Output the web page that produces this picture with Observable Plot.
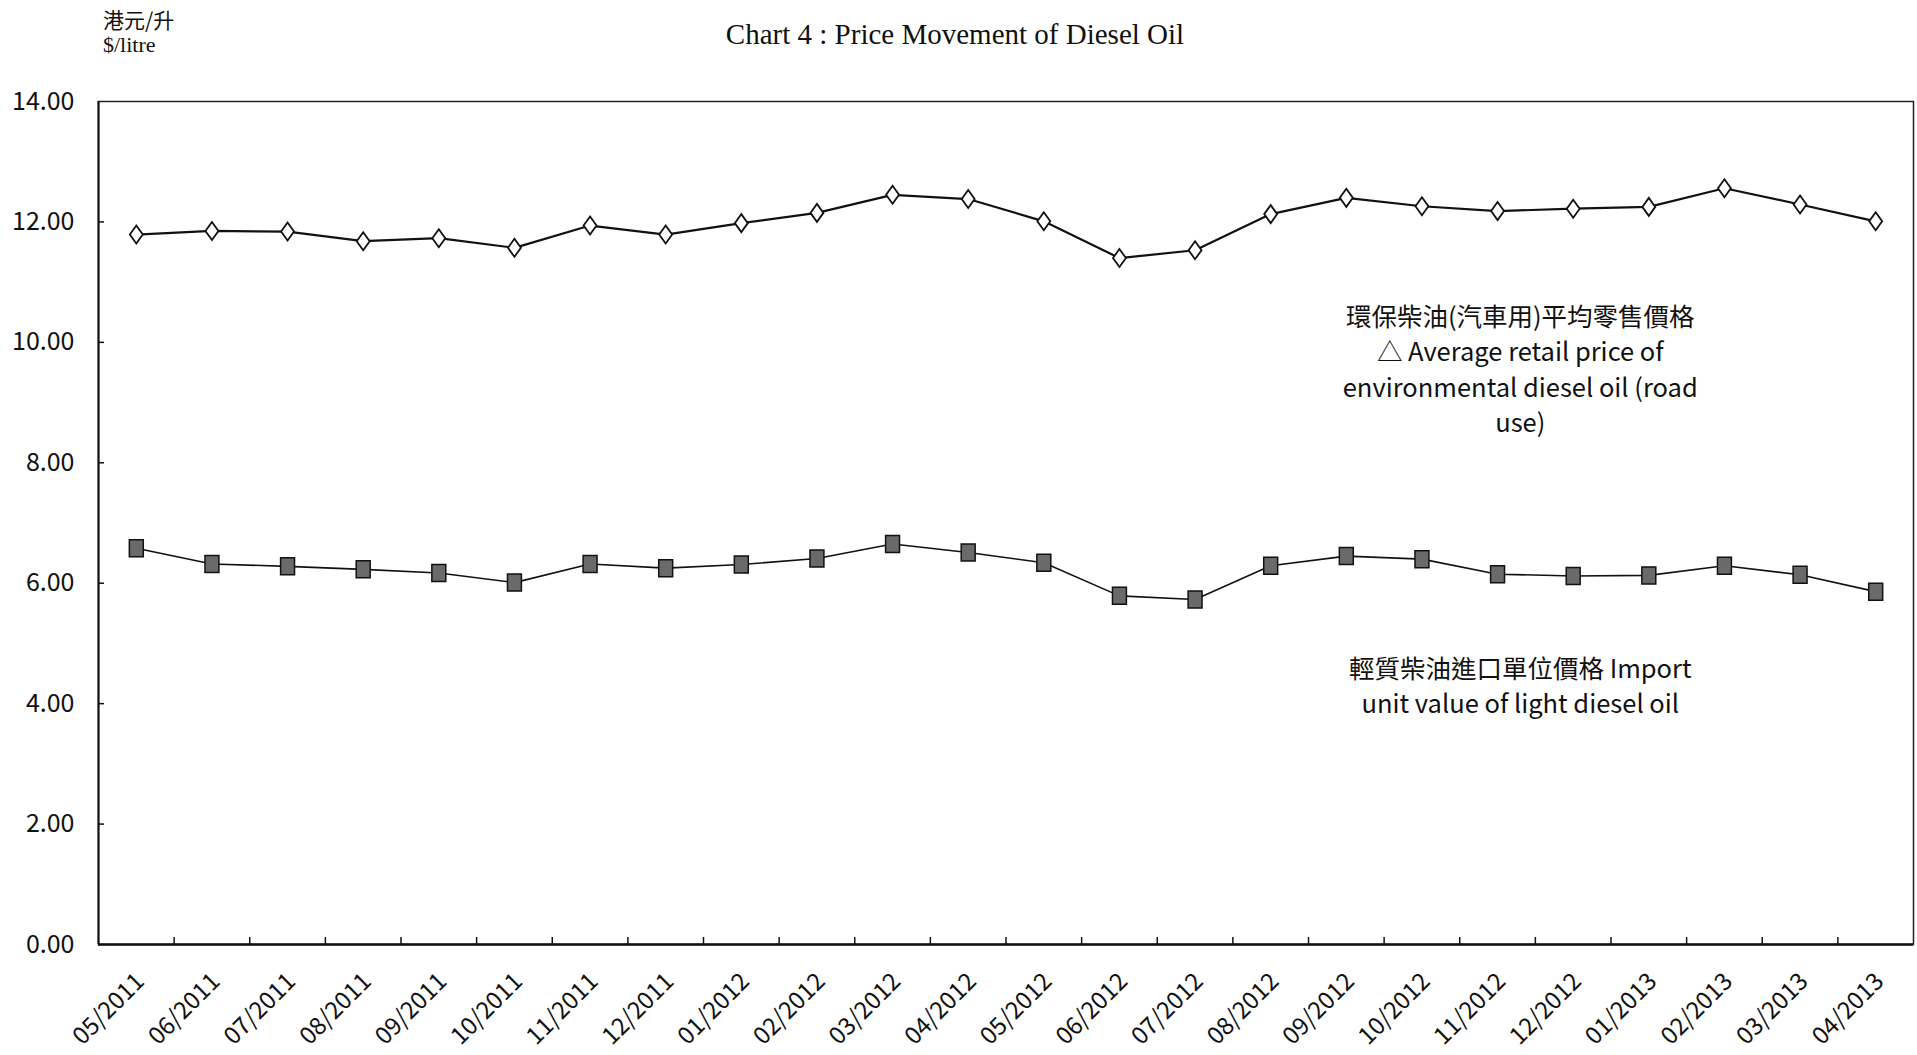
<!DOCTYPE html>
<html>
<head>
<meta charset="utf-8">
<script src="https://cdn.jsdelivr.net/npm/d3@7"></script>
<script src="https://cdn.jsdelivr.net/npm/@observablehq/plot@0.6"></script>
<style>
  html, body { margin: 0; padding: 0; background: #fff; }
  #wrap { position: relative; width: 1917px; height: 1055px; overflow: hidden; }
  #chart { position: absolute; left: 0; top: 0; }
  #title { position: absolute; left: 955px; top: 18px; transform: translateX(-50%); white-space: nowrap;
           font-family: "Liberation Serif", "Times New Roman", serif; font-size: 29px; color: #111; }
  #units { position: absolute; left: 103px; top: 6px; color: #111; line-height: 26px; }
  #units .zh { font-family: "Noto Sans CJK TC", sans-serif; font-size: 21px; }
  #units .en { font-family: "Liberation Serif", serif; font-size: 22px; }
</style>
</head>
<body>
<div id="wrap">
  <div id="chart"></div>
  <div id="title"></div>
  <div id="units"><div class="zh"></div><div class="en"></div></div>
</div>
<script>
const titleText = "Chart 4 : Price Movement of Diesel Oil";
const unitZh = "港元/升";
const unitEn = "$/litre";

const months = ["05/2011","06/2011","07/2011","08/2011","09/2011","10/2011","11/2011","12/2011",
  "01/2012","02/2012","03/2012","04/2012","05/2012","06/2012","07/2012","08/2012","09/2012","10/2012","11/2012","12/2012",
  "01/2013","02/2013","03/2013","04/2013"];
const retailPrice = [11.79,11.85,11.84,11.68,11.73,11.57,11.94,11.79,11.98,12.15,12.45,12.38,
  12.01,11.40,11.53,12.13,12.40,12.26,12.18,12.22,12.25,12.56,12.29,12.01];
const importUnitValue = [6.58,6.32,6.28,6.23,6.17,6.01,6.32,6.25,6.31,6.41,6.65,6.51,
  6.34,5.79,5.73,6.29,6.45,6.40,6.15,6.12,6.13,6.29,6.14,5.86];
const yTicks = [0,2,4,6,8,10,12,14];

const retailLabel = "環保柴油(汽車用)平均零售價格\n△ Average retail price of\nenvironmental diesel oil (road\nuse)";
const importLabel = "輕質柴油進口單位價格 Import\nunit value of light diesel oil";
const annotations = [
  {x: 18.8, y: 9.58, text: retailLabel},
  {x: 18.8, y: 4.32, text: importLabel}
];

document.getElementById("title").textContent = titleText;
document.querySelector("#units .zh").textContent = unitZh;
document.querySelector("#units .en").textContent = unitEn;

const table = months.map((m, i) => ({month: m, x: i + 0.5, retail: retailPrice[i], imp: importUnitValue[i]}));

const tallDiamond = {draw(ctx, size) {
  const r = Math.sqrt(size / Math.PI), w = r * 0.72;
  ctx.moveTo(0, -r); ctx.lineTo(w, 0); ctx.lineTo(0, r); ctx.lineTo(-w, 0); ctx.closePath();
}};
const tallSquare = {draw(ctx, size) {
  const r = Math.sqrt(size / Math.PI), w = r * 0.82;
  ctx.rect(-w, -r, 2 * w, 2 * r);
}};

const chart = Plot.plot({
  width: 1917, height: 1055,
  marginLeft: 98, marginRight: 4, marginTop: 101, marginBottom: 111,
  style: {fontFamily: "'Noto Sans CJK TC', sans-serif", fontSize: "24px", color: "#111", background: "white"},
  x: {type: "linear", domain: [0, months.length], axis: null, label: null},
  y: {domain: [0, 14], axis: null, label: null},
  marks: [
    Plot.axisY(yTicks, {tickSize: 0, tickPadding: 24, tickFormat: d3.format(".2f"), fontSize: 25, fill: "#111", label: null}),
    Plot.axisY(yTicks.slice(1, -1), {tickSize: -6, tickFormat: () => "", stroke: "#111", strokeWidth: 1.5, label: null}),
    Plot.axisX(d3.range(1, months.length), {tickSize: -7, tickFormat: () => "", stroke: "#111", strokeWidth: 1.5, label: null}),
    Plot.frame({stroke: "#222", strokeWidth: 1.5}),
    Plot.ruleY([0], {stroke: "#111", strokeWidth: 2.5}),
    Plot.ruleX([0], {stroke: "#111", strokeWidth: 2}),
    Plot.text(table, {x: "x", text: "month", frameAnchor: "bottom", rotate: -45, textAnchor: "end",
      lineAnchor: "middle", dy: 33, dx: 4, fontSize: 24, fill: "#111"}),
    Plot.line(table, {x: "x", y: "imp", stroke: "#111", strokeWidth: 1.6}),
    Plot.dot(table, {x: "x", y: "imp", symbol: tallSquare, r: 8.5, fill: "#6a6a6a", stroke: "#111", strokeWidth: 1.5}),
    Plot.line(table, {x: "x", y: "retail", stroke: "#111", strokeWidth: 2.2}),
    Plot.dot(table, {x: "x", y: "retail", symbol: tallDiamond, r: 9, fill: "white", stroke: "#111", strokeWidth: 1.8}),
    Plot.text(annotations, {x: "x", y: "y", text: "text", lineAnchor: "middle", lineHeight: 1.38,
      fontSize: 25.5, fill: "#111"})
  ]
});
document.getElementById("chart").appendChild(chart);
</script>
</body>
</html>
